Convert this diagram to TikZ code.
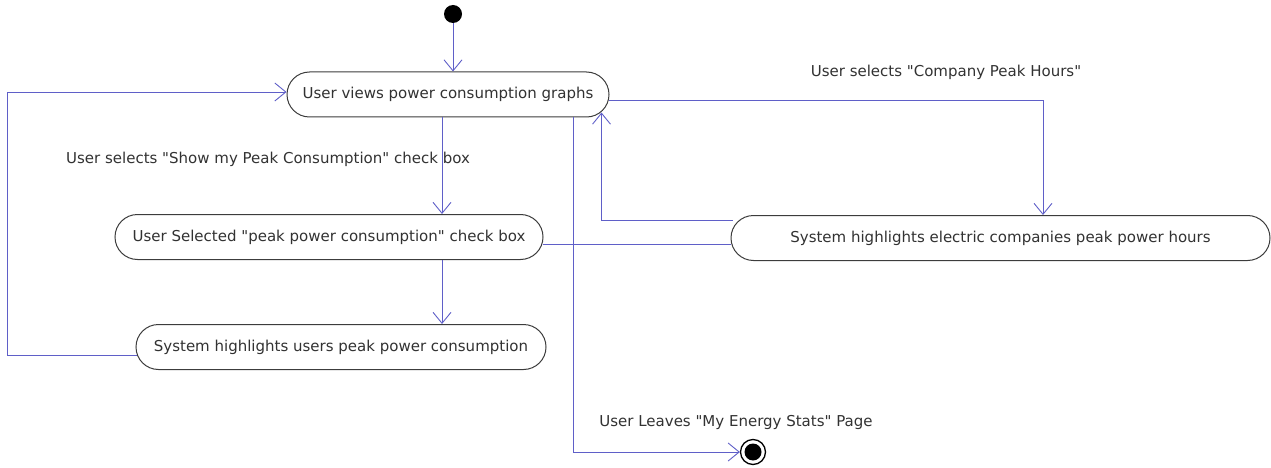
\documentclass[tikz,border=0pt]{standalone}
\usepackage{fontspec}
\setmainfont{DejaVu Sans}
\usetikzlibrary{arrows.meta,calc}
\definecolor{flowblue}{RGB}{95,95,200}
\definecolor{boxline}{RGB}{60,60,60}
\definecolor{txt}{RGB}{50,50,50}
\newcommand{\q}{\textquotedbl}
\begin{document}
\begin{tikzpicture}[x=1pt,y=-1pt,
  every node/.style={font=\fontsize{15}{17}\selectfont, text=txt},
  activity/.style={draw=boxline, line width=1pt, rounded corners=22.5pt,
    minimum height=45pt, inner sep=0pt, fill=white},
  link/.style={draw=flowblue, line width=0.9pt},
  flow/.style={link, -{Straight Barb[length=11pt,width=18pt,line width=0.9pt]}},
  guard/.style={inner sep=0pt}]
\useasboundingbox (0,0) rectangle (1271,468);

% initial and final states
\node[circle, fill=black, minimum size=18pt, inner sep=0pt] (start) at (453,14) {};
\node[circle, draw=black, line width=1.3pt, fill=white, minimum size=25pt, inner sep=0pt] (finish) at (753,452) {};
\fill[black] (finish) circle (8.5pt);

% activities
\node[activity, minimum width=322pt] (A) at (448,94.5) {User views power consumption graphs};
\node[activity, minimum width=428pt] (B) at (329,237) {User Selected \q peak power consumption\q{} check box};
\node[activity, minimum width=410pt] (C) at (341,347) {System highlights users peak power consumption};
\node[activity, minimum width=539pt] (D) at (1000.5,238) {System highlights electric companies peak power hours};

% guard labels
\node[guard] (gCompany) at (946,72) {User selects \q Company Peak Hours\q};
\node[guard] (gShow) at (268,159) {User selects \q Show my Peak Consumption\q{} check box};
\node[guard] (gLeave) at (736,422) {User Leaves \q My Energy Stats\q{} Page};

% routing columns and corners
\coordinate (colAB) at (442,0);
\coordinate (colDA) at (601,0);
\coordinate (colEnd) at (573,0);
\coordinate (colAD) at (1043,0);
\coordinate (loopTL) at (7,92);

% transitions
\draw[flow] (start) -- (A.north -| start);
\draw[flow] (A.south -| colAB) -- (B.north -| colAB);
\draw[flow] (B.south -| colAB) -- (C.north -| colAB);
\draw[flow] ($(C.west)+(1,8)$) -| (loopTL) -- ($(A.west)+(0,-2.5)$);
\draw[flow] ($(A.east)+(-1,5.5)$) -| (D.north -| colAD);
\draw[flow] ($(D.west)+(2,-18)$) -| ($(A.east)+(-8,18)$);
\draw[link] ($(B.east)+(-1,7)$) -- ($(D.west)+(0,6)$);
\draw[link] ($(C.east)+(0,3)$) -- ($(C.east)+(0,3)$ -| colEnd);
\draw[flow] (A.south -| colEnd) |- (finish);
\end{tikzpicture}
\end{document}
